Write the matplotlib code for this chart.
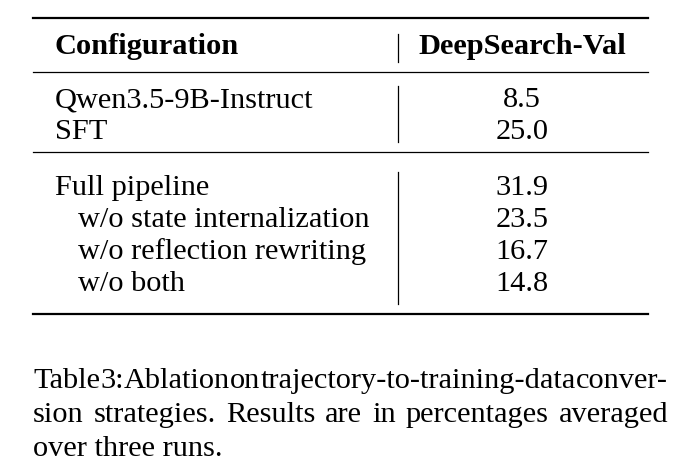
import matplotlib
matplotlib.use("Agg")
import matplotlib.pyplot as plt

plt.rcParams['font.family'] = ['Liberation Serif', 'DejaVu Serif']

header = ["Configuration", "DeepSearch-Val"]
group1 = ["Qwen3.5-9B-Instruct", "SFT"]
values1 = ["8.5", "25.0"]
group2 = ["Full pipeline", "w/o state internalization", "w/o reflection rewriting", "w/o both"]
indent2 = [False, True, True, True]
values2 = ["31.9", "23.5", "16.7", "14.8"]
caption = ["Table 3: Ablation on trajectory-to-training-data conver-",
           "sion strategies.  Results are in percentages averaged",
           "over three runs."]

fig = plt.figure(figsize=(6.92, 4.66), dpi=100)
ax = fig.add_axes([0, 0, 1, 1])
ax.set_xlim(0, 692)
ax.set_ylim(466, 0)
ax.axis('off')

fs = 21.9
x0, x1, xv, xc = 33, 648, 398, 522

ax.plot([x0, x1], [18, 18], color='black', lw=1.6)
ax.plot([x0, x1], [72, 72], color='black', lw=0.9)
ax.plot([x0, x1], [152, 152], color='black', lw=0.9)
ax.plot([x0, x1], [314, 314], color='black', lw=1.6)
for a, b in [(34, 62), (86, 142), (172, 304)]:
    ax.plot([xv, xv], [a, b], color='black', lw=0.9)

ax.text(55, 47, header[0], fontsize=fs, fontweight='bold', va='center')
ax.text(xc, 47, header[1], fontsize=fs, fontweight='bold', va='center', ha='center')

for i, (name, v) in enumerate(zip(group1, values1)):
    y = 100 + 32 * i
    ax.text(55, y, name, fontsize=fs, va='center')
    ax.text(xc, y, v, fontsize=fs, va='center', ha='center')

for i, (name, ind, v) in enumerate(zip(group2, indent2, values2)):
    y = 188 + 32 * i
    ax.text(78 if ind else 55, y, name, fontsize=fs, va='center')
    ax.text(xc, y, v, fontsize=fs, va='center', ha='center')

# caption, justified like the paper
renderer = fig.canvas.get_renderer()
cx0, cx1 = 33, 668
for i, line in enumerate(caption):
    y = 381 + 34 * i
    words = line.split()
    if i == len(caption) - 1:
        ax.text(cx0, y, line, fontsize=fs, va='center')
        continue
    ts = [ax.text(0, y, w, fontsize=fs, va='center') for w in words]
    widths = []
    for t in ts:
        bb = t.get_window_extent(renderer)
        widths.append(bb.width)
    gap = (cx1 - cx0 - sum(widths)) / (len(words) - 1)
    x = cx0
    for t, w in zip(ts, widths):
        t.set_x(x)
        x += w + gap

fig.savefig("out.png", dpi=100)
